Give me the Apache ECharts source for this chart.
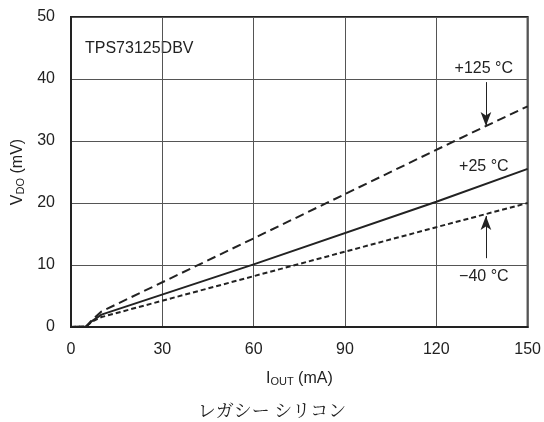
<!DOCTYPE html>
<html><head><meta charset="utf-8">
<script src="https://cdn.jsdelivr.net/npm/echarts@6/dist/echarts.min.js"></script>
<style>html,body{margin:0;padding:0;background:#fff}#c{width:544px;height:422px}</style>
</head><body><div id="c"></div>
<script>
const xTicks = [0, 30, 60, 90, 120, 150];
const yTicks = [0, 10, 20, 30, 40, 50];
const t125X = [0, 5, 7, 10, 60, 126, 150];
const t125Y = [0, 0.1, 1.2, 2.5, 14.3, 30, 35.6];
const t25X = [0, 5, 7, 10, 60, 120, 150];
const t25Y = [0, 0.1, 1.0, 2.0, 10.1, 20.2, 25.5];
const tm40X = [0, 5, 7, 10, 60, 120, 150];
const tm40Y = [0, 0.1, 0.9, 1.6, 8.2, 16.1, 20.0];
const seriesNames = ['+125 °C', '+25 °C', '−40 °C'];
const deviceName = 'TPS73125DBV';
const caption = 'レガシー シリコン';

const zip = (xs, ys) => xs.map((x, i) => [x, ys[i]]);
const font = 'Liberation Sans, Arial, sans-serif';
const fs = 16;
const chart = echarts.init(document.getElementById('c'));
const annot = (text, x, y) => ({
  symbolSize: 0, silent: true,
  label: { show: true, formatter: text, color: '#222', fontSize: fs, fontFamily: font, position: 'inside' },
  data: [{ coord: [x, y] }]
});
const arrow = (x, y0, y1) => ({
  silent: true, symbol: ['none', 'arrow'], symbolSize: [8, 14],
  lineStyle: { color: '#222', width: 1, type: 'solid' }, label: { show: false },
  data: [[{ coord: [x, y0] }, { coord: [x, y1] }]]
});
chart.setOption({
  animation: false,
  backgroundColor: '#fff',
  grid: { left: 71, right: 14, top: 17, bottom: 95, show: true, borderColor: '#222', borderWidth: 2 },
  xAxis: {
    type: 'value', min: 0, max: 150, interval: 30,
    axisLine: { show: true, lineStyle: { color: '#222', width: 2 } },
    axisTick: { show: false },
    splitLine: { show: true, lineStyle: { color: '#555', width: 1 } },
    axisLabel: { color: '#222', fontSize: fs, fontFamily: font, margin: 15 },
    name: '{a|I}{s|OUT}{a| (mA)}', nameLocation: 'middle', nameGap: 43,
    nameTextStyle: { rich: {
      a: { fontSize: fs, color: '#222', fontFamily: font },
      s: { fontSize: 11, color: '#222', fontFamily: font, padding: [6, 0, 0, 0] }
    } }
  },
  yAxis: {
    type: 'value', min: 0, max: 50, interval: 10,
    axisLine: { show: true, lineStyle: { color: '#222', width: 2 } },
    axisTick: { show: false },
    splitLine: { show: true, lineStyle: { color: '#555', width: 1 } },
    axisLabel: { color: '#222', fontSize: fs, fontFamily: font, margin: 16 },
    name: '{a|V}{s|DO}{a| (mV)}', nameLocation: 'middle', nameGap: 44,
    nameTextStyle: { rich: {
      a: { fontSize: fs, color: '#222', fontFamily: font },
      s: { fontSize: 11, color: '#222', fontFamily: font, padding: [6, 0, 0, 0] }
    } }
  },
  graphic: [
    { type: 'text', left: 85, top: 41, style: { text: deviceName, fontSize: fs, fontFamily: font, fill: '#222' } },
    { type: 'text', left: 'center', top: 401, style: { text: caption, fontSize: 18, fontFamily: 'Noto Serif CJK JP, serif', fill: '#222' } }
  ],
  series: [
    {
      type: 'line', name: seriesNames[0], data: zip(t125X, t125Y), symbol: 'none',
      lineStyle: { color: '#222', width: 2, type: [9, 5] },
      markLine: arrow(136.3, 39.5, 32.4),
      markPoint: annot(seriesNames[0], 135.6, 41.6)
    },
    {
      type: 'line', name: seriesNames[1], data: zip(t25X, t25Y), symbol: 'none',
      lineStyle: { color: '#222', width: 2, type: 'solid' },
      markPoint: annot(seriesNames[1], 135.6, 25.8)
    },
    {
      type: 'line', name: seriesNames[2], data: zip(tm40X, tm40Y), symbol: 'none',
      lineStyle: { color: '#222', width: 2, type: [5, 3] },
      markLine: arrow(136.3, 11.1, 17.9),
      markPoint: annot(seriesNames[2], 135.6, 8.1)
    }
  ]
});
</script></body></html>
